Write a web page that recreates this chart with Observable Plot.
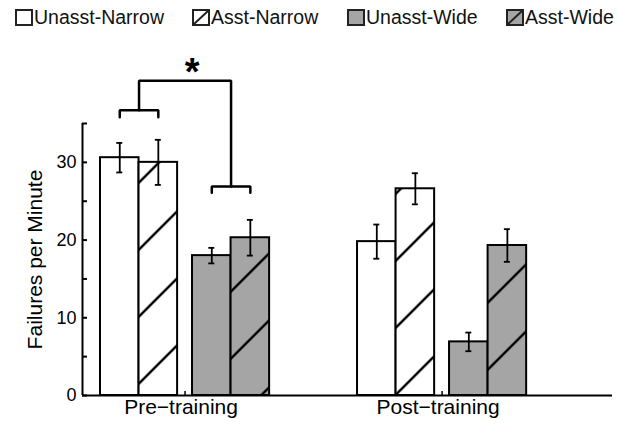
<!DOCTYPE html>
<html>
<head>
<meta charset="utf-8">
<script src="https://cdn.jsdelivr.net/npm/d3@7"></script>
<script src="https://cdn.jsdelivr.net/npm/@observablehq/plot@0.6"></script>
<style>
  body { margin: 0; background: #fff; font-family: "Liberation Sans", Arial, sans-serif; }
  #legend { position: relative; height: 38px; font-size: 19.5px; color: #111; }
  .item { position: absolute; top: 9px; display: flex; align-items: center; height: 17px; white-space: nowrap; }
  .item svg { flex: none; }
  .item span { margin-left: 1px; }
</style>
</head>
<body>
<div id="legend"></div>
<div id="chart"></div>
<script>
// Failures per minute, mean and error, by training phase and condition
const groups = ["Pre−training", "Post−training"];
const series = ["Unasst-Narrow", "Asst-Narrow", "Unasst-Wide", "Asst-Wide"];
const preMeans = [30.6, 30.0, 18.0, 20.3];
const preErrors = [1.9, 2.9, 1.0, 2.3];
const postMeans = [19.8, 26.6, 6.9, 19.3];
const postErrors = [2.2, 2.0, 1.2, 2.1];
const yTicks = [0, 5, 10, 15, 20, 25, 30, 35];
const yLabels = [0, 10, 20, 30];

// significance bracket levels (failures per minute)
const narrowBracket = [35.8, 36.7];
const wideBracket = [26.1, 26.9];
const bridgeLevel = 40.5;
const starLevel = 41.5;

// styling per condition
const seriesFill = ["url(#plain-white)", "url(#hatch-white)", "url(#plain-gray)", "url(#hatch-gray)"];
const swatchFill = ["#ffffff", "#ffffff", "#a5a5a5", "#a5a5a5"];
const seriesHatched = [false, true, false, true];
const legendLeft = [15, 192, 347, 506];

// layout in units of group spacing
const barW = 0.15;
const pairGap = 0.058;
const xDomain = [-0.399, 1.663];
const offsets = [-pairGap / 2 - 2 * barW, -pairGap / 2 - barW, pairGap / 2, pairGap / 2 + barW];

const meansByGroup = [preMeans, postMeans];
const errorsByGroup = [preErrors, postErrors];
const rows = [];
groups.forEach((g, gi) => {
  series.forEach((s, si) => {
    const x1 = gi + offsets[si];
    rows.push({group: g, gi, series: s, si, mean: meansByGroup[gi][si], err: errorsByGroup[gi][si], x1, x2: x1 + barW, xc: x1 + barW / 2});
  });
});

// brackets over the pre-training narrow pair, wide pair, and a bridge between them
const c = (si) => rows[si].xc;
const mid01 = (c(0) + c(1)) / 2;
const mid23 = (c(2) + c(3)) / 2;
const bracketPts = [
  {id: "narrow", x: c(0), y: narrowBracket[0]}, {id: "narrow", x: c(0), y: narrowBracket[1]},
  {id: "narrow", x: c(1), y: narrowBracket[1]}, {id: "narrow", x: c(1), y: narrowBracket[0]},
  {id: "wide", x: c(2), y: wideBracket[0]}, {id: "wide", x: c(2), y: wideBracket[1]},
  {id: "wide", x: c(3), y: wideBracket[1]}, {id: "wide", x: c(3), y: wideBracket[0]},
  {id: "bridge", x: mid01, y: narrowBracket[1]}, {id: "bridge", x: mid01, y: bridgeLevel},
  {id: "bridge", x: mid23, y: bridgeLevel}, {id: "bridge", x: mid23, y: wideBracket[1]}
];

const font = '"Liberation Sans", Arial, sans-serif';

const chart = Plot.plot({
  width: 618,
  height: 387,
  marginLeft: 82,
  marginRight: 6,
  marginTop: 85,
  marginBottom: 30,
  style: {fontFamily: font, color: "#000", background: "#fff", overflow: "visible"},
  x: {domain: xDomain, axis: null},
  y: {domain: [yTicks[0], yTicks[yTicks.length - 1]], axis: null},
  marks: [
    ...series.map((s, si) => Plot.rectY(rows.filter(r => r.si === si), {
      x1: "x1", x2: "x2", y1: 0, y2: "mean",
      fill: seriesFill[si], stroke: "#000", strokeWidth: 2
    })),
    Plot.ruleX(rows, {x: "xc", y1: d => d.mean - d.err, y2: d => d.mean + d.err, stroke: "#000", strokeWidth: 1.8}),
    Plot.ruleY(rows, {x1: "xc", x2: "xc", y: d => d.mean + d.err, insetLeft: -3, insetRight: -3, stroke: "#000", strokeWidth: 1.8}),
    Plot.ruleY(rows, {x1: "xc", x2: "xc", y: d => d.mean - d.err, insetLeft: -3, insetRight: -3, stroke: "#000", strokeWidth: 1.8}),
    // axes
    Plot.ruleX([xDomain[0]], {y1: yTicks[0], y2: yTicks[yTicks.length - 1], stroke: "#000", strokeWidth: 2}),
    Plot.ruleY([0], {stroke: "#000", strokeWidth: 2}),
    Plot.axisY(yTicks, {tickSize: 5, dx: 5, tickFormat: () => "", strokeWidth: 2}),
    Plot.axisY(yLabels, {tickSize: 0, tickPadding: 6, fontSize: 18, fill: "#000"}),
    Plot.axisX([0, 1], {tickSize: 4, dy: -4, tickFormat: () => "", strokeWidth: 1.5}),
    Plot.axisX([0, 1], {tickSize: 0, tickPadding: 4, dx: -4, tickFormat: i => groups[i], fontSize: 21, fill: "#000"}),
    Plot.text(["Failures per Minute"], {
      frameAnchor: "left", y: () => (yTicks[0] + yTicks[yTicks.length - 1]) / 2,
      dx: -47, rotate: -90, textAnchor: "middle", lineAnchor: "middle", fontSize: 21, fill: "#000"
    }),
    // significance
    Plot.line(bracketPts, {x: "x", y: "y", z: "id", stroke: "#000", strokeWidth: 2.5, strokeLinejoin: "miter", curve: "linear"}),
    Plot.text(["*"], {x: () => (mid01 + mid23) / 2, y: () => starLevel, dx: 7, fontSize: 38, fontWeight: "bold", lineAnchor: "middle", fill: "#000"})
  ]
});

// fill patterns for bars: plain and diagonally hatched
const svg = chart.tagName.toLowerCase() === "svg" ? chart : chart.querySelector("svg");
const hatch = (id, bg) => `
  <pattern id="${id}" patternUnits="userSpaceOnUse" width="67" height="67" x="15.5" y="0">
    <rect width="67" height="67" fill="${bg}"/>
    <path d="M0,67L67,0M-10,10L10,-10M57,77L77,57" stroke="#000" stroke-width="2.4"/>
  </pattern>`;
const plain = (id, bg) => `
  <pattern id="${id}" patternUnits="userSpaceOnUse" width="10" height="10">
    <rect width="10" height="10" fill="${bg}"/>
  </pattern>`;
d3.select(svg).insert("defs", ":first-child").html(
  plain("plain-white", swatchFill[0]) + hatch("hatch-white", swatchFill[1]) +
  plain("plain-gray", swatchFill[2]) + hatch("hatch-gray", swatchFill[3])
);
document.getElementById("chart").appendChild(chart);

// legend
const legend = d3.select("#legend");
series.forEach((s, si) => {
  const item = legend.append("div").attr("class", "item").style("left", legendLeft[si] + "px");
  const sw = item.append("svg").attr("width", 18).attr("height", 17);
  sw.append("rect").attr("x", 1).attr("y", 1).attr("width", 16).attr("height", 15)
    .attr("fill", swatchFill[si]).attr("stroke", "#222").attr("stroke-width", 2);
  if (seriesHatched[si]) {
    sw.append("line").attr("x1", 2).attr("y1", 15).attr("x2", 16).attr("y2", 2)
      .attr("stroke", "#222").attr("stroke-width", 2);
  }
  item.append("span").text(s);
});
</script>
</body>
</html>
